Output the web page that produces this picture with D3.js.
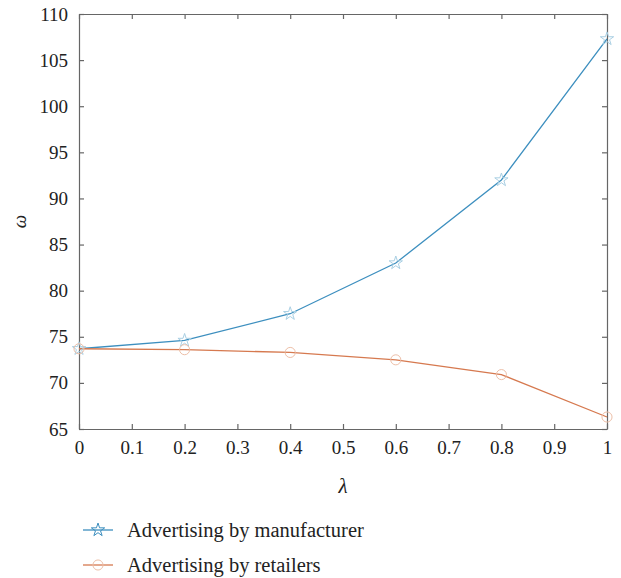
<!DOCTYPE html>
<html>
<head>
<meta charset="utf-8">
<script src="https://cdn.jsdelivr.net/npm/d3@7"></script>
<style>
  html, body { margin: 0; padding: 0; background: #fff; }
  svg text, .tick text { font-family: "Liberation Serif", "DejaVu Serif", serif !important; fill: #222; }
</style>
</head>
<body>
<svg id="chart" width="621" height="578"></svg>
<script>
// λ values shared by both series
const lambdas = [0, 0.2, 0.4, 0.6, 0.8, 1];
// ω when the manufacturer advertises
const manufacturer = [73.7, 74.6, 77.5, 83.0, 92.0, 107.3];
// ω when the retailers advertise
const retailers = [73.7, 73.6, 73.3, 72.5, 70.9, 66.3];
const xTicks = [0, 0.1, 0.2, 0.3, 0.4, 0.5, 0.6, 0.7, 0.8, 0.9, 1];
const yTicks = [65, 70, 75, 80, 85, 90, 95, 100, 105, 110];
const seriesNames = ["Advertising by manufacturer", "Advertising by retailers"];

const svg = d3.select("#chart");
const L = 79, R = 607, T = 14, B = 429;
const x = d3.scaleLinear().domain([0, 1]).range([L, R]);
const y = d3.scaleLinear().domain([65, 110]).range([B, T]);
const axisCol = "#666";

// frame with inward ticks on all four sides
const g = svg.append("g");
const axBottom = g.append("g").attr("transform", `translate(0,${B})`)
  .call(d3.axisBottom(x).tickValues(xTicks).tickSizeInner(-5).tickSizeOuter(0).tickPadding(12).tickFormat(d3.format("")));
const axTop = g.append("g").attr("transform", `translate(0,${T})`)
  .call(d3.axisTop(x).tickValues(xTicks).tickSizeInner(-5).tickSizeOuter(0).tickFormat(""));
const axLeft = g.append("g").attr("transform", `translate(${L},0)`)
  .call(d3.axisLeft(y).tickValues(yTicks).tickSizeInner(-5).tickSizeOuter(0).tickPadding(11));
const axRight = g.append("g").attr("transform", `translate(${R},0)`)
  .call(d3.axisRight(y).tickValues(yTicks).tickSizeInner(-5).tickSizeOuter(0).tickFormat(""));
[axBottom, axTop, axLeft, axRight].forEach(a => {
  a.attr("font-size", 19);
  a.select(".domain").attr("stroke", axisCol).attr("stroke-width", 1.2);
  a.selectAll(".tick line").attr("stroke", axisCol).attr("stroke-width", 1.2);
  a.selectAll("text").attr("fill", "#222");
});

// axis titles
svg.append("text").attr("x", x(0.5)).attr("y", 493).attr("text-anchor", "middle")
  .attr("font-size", 21).attr("font-style", "italic").text("λ");
svg.append("text").attr("transform", `translate(26,${(T + B) / 2}) rotate(-90)`)
  .attr("text-anchor", "middle").attr("font-size", 19).attr("font-style", "italic").text("ω");

const colors = ["#3d8fbf", "#d6794f"];
const markerColors = ["#a9cfe3", "#edbfa8"];
const line = d3.line().x((d, i) => x(lambdas[i])).y(d => y(d));
const data = [manufacturer, retailers];

data.forEach((s, k) => {
  svg.append("path").datum(s).attr("d", line).attr("fill", "none")
    .attr("stroke", colors[k]).attr("stroke-width", 1.3);
});

const star = d3.symbol().type(d3.symbolStar).size(55);
const circ = d3.symbol().type(d3.symbolCircle).size(80);
manufacturer.forEach((v, i) => {
  svg.append("path").attr("d", star()).attr("transform", `translate(${x(lambdas[i])},${y(v)})`)
    .attr("fill", "none").attr("stroke", markerColors[0]).attr("stroke-width", 1);
});
retailers.forEach((v, i) => {
  svg.append("path").attr("d", circ()).attr("transform", `translate(${x(lambdas[i])},${y(v)})`)
    .attr("fill", "none").attr("stroke", markerColors[1]).attr("stroke-width", 1);
});

// legend
const legY = [530, 565];
seriesNames.forEach((name, k) => {
  const lg = svg.append("g");
  lg.append("line").attr("x1", 83).attr("x2", 113).attr("y1", legY[k]).attr("y2", legY[k])
    .attr("stroke", colors[k]).attr("stroke-width", 1.3);
  lg.append("path").attr("d", k === 0 ? star() : circ())
    .attr("transform", `translate(98,${legY[k]})`)
    .attr("fill", "none").attr("stroke", k === 0 ? colors[0] : markerColors[1]).attr("stroke-width", 1);
  lg.append("text").attr("x", 127).attr("y", legY[k]).attr("dy", "0.35em")
    .attr("font-size", 20.5).text(name);
});
</script>
</body>
</html>
